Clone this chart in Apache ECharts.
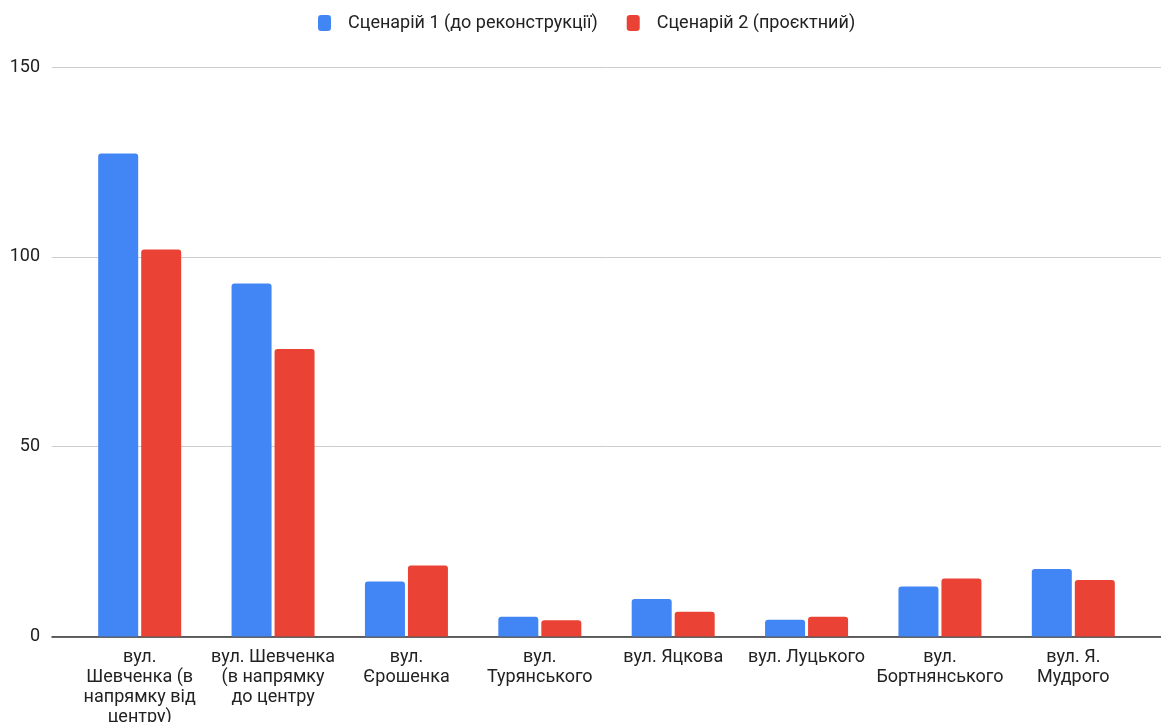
<!DOCTYPE html>
<html><head><meta charset="utf-8">
<script src="https://cdn.jsdelivr.net/npm/echarts@6/dist/echarts.min.js"></script>
<style>html,body{margin:0;padding:0;background:#fff}#c{width:1161px;height:722px}</style>
</head><body><div id="c"></div>
<script>
const categories = [
  'вул.\nШевченка (в\nнапрямку від\nцентру)',
  'вул. Шевченка\n(в напрямку\nдо центру',
  'вул.\nЄрошенка',
  'вул.\nТурянського',
  'вул. Яцкова',
  'вул. Луцького',
  'вул.\nБортнянського',
  'вул. Я.\nМудрого'
];
const seriesNames = ['Сценарій 1 (до реконструкції)', 'Сценарій 2 (проєктний)'];
const scenario1 = [127.2, 93.0, 14.5, 5.2, 9.9, 4.4, 13.2, 17.8];
const scenario2 = [101.9, 75.7, 18.7, 4.3, 6.5, 5.2, 15.3, 14.9];
const yMin = 0, yMax = 150, yStep = 50;

const font = 'Roboto, "Noto Sans", sans-serif';
const chart = echarts.init(document.getElementById('c'), null, {renderer: 'canvas'});
chart.setOption({
  animation: false,
  textStyle: {fontFamily: font},
  legend: {
    top: 9, left: 313,
    itemWidth: 13, itemHeight: 16, itemGap: 29,
    icon: 'roundRect',
    textStyle: {fontSize: 18, color: '#222', fontFamily: font, padding: [0, 0, 0, 12]},
    data: seriesNames
  },
  grid: [
    {left: 52, right: 0, top: 67, bottom: 85.5, outerBoundsMode: 'none', containLabel: false},
    {left: 73, right: 21, top: 67, bottom: 85.5, outerBoundsMode: 'none', containLabel: false}
  ],
  xAxis: [
    {gridIndex: 0, type: 'value', min: 0, max: 1, show: true,
     axisLine: {show: true, lineStyle: {color: '#333', width: 1.5}},
     axisLabel: {show: false}, axisTick: {show: false}, splitLine: {show: false}},
    {gridIndex: 1, type: 'category', data: categories,
     axisLine: {show: false}, axisTick: {show: false},
     axisLabel: {interval: 0, fontSize: 18, color: '#222', lineHeight: 20, margin: 11, fontFamily: font, align: 'center'}}
  ],
  yAxis: [
    {gridIndex: 0, type: 'value', min: yMin, max: yMax, interval: yStep,
     axisLine: {show: false}, axisTick: {show: false},
     axisLabel: {fontSize: 18, color: '#222', margin: 12, fontFamily: font},
     splitLine: {lineStyle: {color: '#cccccc', width: 1}}},
    {gridIndex: 1, type: 'value', min: yMin, max: yMax, interval: yStep, show: false}
  ],
  series: [
    {name: seriesNames[0], type: 'bar', xAxisIndex: 1, yAxisIndex: 1, data: scenario1,
     barWidth: 40, barGap: '7.5%', itemStyle: {color: '#4285F4', borderRadius: [3,3,0,0]}},
    {name: seriesNames[1], type: 'bar', xAxisIndex: 1, yAxisIndex: 1, data: scenario2,
     barWidth: 40, barGap: '7.5%', itemStyle: {color: '#EA4335', borderRadius: [3,3,0,0]}}
  ]
});
</script></body></html>
